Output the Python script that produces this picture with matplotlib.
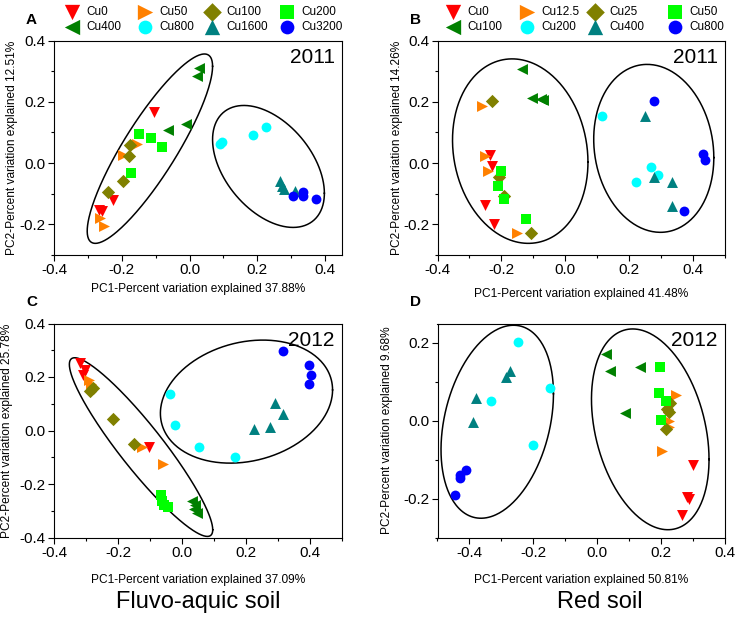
import numpy as np
import matplotlib
matplotlib.use("Agg")
from matplotlib import pyplot as plt
from matplotlib.ticker import MultipleLocator, FormatStrFormatter

plt.rcParams['font.family'] = ['Liberation Sans', 'DejaVu Sans']

# ---- data ----
labels_fa = ['Cu0', 'Cu50', 'Cu100', 'Cu200', 'Cu400', 'Cu800', 'Cu1600', 'Cu3200']
labels_red = ['Cu0', 'Cu12.5', 'Cu25', 'Cu50', 'Cu100', 'Cu200', 'Cu400', 'Cu800']
colors = ['#FF0000', '#FF8000', '#808000', '#00FF00', '#008000', '#00FFFF', '#008080', '#0000FF']
markers = ['v', '>', 'D', 's', '<', 'o', '^', 'o']
msizes = [62, 62, 46, 46, 62, 50, 62, 50]

# panel A: fluvo-aquic soil 2011
a_x = [[-0.104, -0.227, -0.268, -0.258],
       [-0.156, -0.197, -0.264, -0.252],
       [-0.177, -0.180, -0.197, -0.241],
       [-0.148, -0.113, -0.081, -0.172],
       [0.027, 0.022, -0.064, -0.011],
       [0.096, 0.091, 0.187, 0.226],
       [0.268, 0.272, 0.280, 0.312],
       [0.305, 0.335, 0.335, 0.374]]
a_y = [[0.166, -0.120, -0.152, -0.155],
       [0.063, 0.027, -0.180, -0.205],
       [0.060, 0.022, -0.060, -0.095],
       [0.096, 0.082, 0.052, -0.032],
       [0.309, 0.284, 0.109, 0.128],
       [0.068, 0.063, 0.093, 0.119],
       [-0.058, -0.075, -0.083, -0.090],
       [-0.107, -0.094, -0.109, -0.117]]

# panel B: red soil 2011
b_x = [[-0.235, -0.228, -0.251, -0.224],
       [-0.260, -0.250, -0.242, -0.152],
       [-0.229, -0.208, -0.191, -0.106],
       [-0.201, -0.210, -0.191, -0.123],
       [-0.134, -0.103, -0.077, -0.069],
       [0.115, 0.268, 0.289, 0.222],
       [0.248, 0.279, 0.333, 0.333],
       [0.279, 0.431, 0.438, 0.372]]
b_y = [[0.027, -0.010, -0.136, -0.199],
       [0.185, 0.022, -0.027, -0.229],
       [0.202, -0.044, -0.109, -0.227],
       [-0.027, -0.074, -0.117, -0.183],
       [0.308, 0.213, 0.209, 0.207],
       [0.153, -0.013, -0.040, -0.063],
       [0.153, -0.044, -0.063, -0.140],
       [0.202, 0.031, 0.011, -0.158]]

# panel C: fluvo-aquic soil 2012
c_x = [[-0.319, -0.303, -0.309, -0.103],
       [-0.290, -0.283, -0.124, -0.059],
       [-0.277, -0.286, -0.217, -0.151],
       [-0.066, -0.062, -0.057, -0.044],
       [0.030, 0.040, 0.036, 0.047],
       [-0.036, -0.023, 0.053, 0.167],
       [0.226, 0.275, 0.292, 0.317],
       [0.317, 0.396, 0.403, 0.398]]
c_y = [[0.252, 0.227, 0.209, -0.062],
       [0.190, 0.175, -0.060, -0.125],
       [0.160, 0.147, 0.044, -0.050],
       [-0.240, -0.262, -0.277, -0.287],
       [-0.262, -0.280, -0.293, -0.310],
       [0.137, 0.019, -0.060, -0.100],
       [0.006, 0.012, 0.102, 0.060],
       [0.297, 0.243, 0.209, 0.172]]

# panel D: red soil 2012
d_x = [[0.301, 0.280, 0.287, 0.266],
       [0.248, 0.224, 0.224, 0.203],
       [0.224, 0.229, 0.218, 0.214],
       [0.198, 0.193, 0.214, 0.201],
       [0.029, 0.040, 0.133, 0.087],
       [-0.249, -0.149, -0.331, -0.202],
       [-0.274, -0.286, -0.379, -0.389],
       [-0.411, -0.431, -0.428, -0.446]]
d_y = [[-0.113, -0.195, -0.202, -0.242],
       [0.065, 0.000, -0.017, -0.078],
       [0.023, 0.045, 0.030, -0.021],
       [0.138, 0.072, 0.051, 0.003],
       [0.172, 0.129, 0.138, 0.019],
       [0.202, 0.083, 0.051, -0.061],
       [0.127, 0.112, 0.058, -0.004],
       [-0.127, -0.140, -0.147, -0.190]]

# grouping ellipses: centre, half extents, tilt (correlation)
ell_a = {'cx': [-0.117, 0.233], 'cy': [0.047, -0.011], 'hx': [0.185, 0.165], 'hy': [0.309, 0.199], 'rho': [0.87, -0.44]}
ell_b = {'cx': [-0.141, 0.277], 'cy': [0.039, 0.048], 'hx': [0.212, 0.188], 'hy': [0.301, 0.274], 'rho': [-0.12, -0.11]}
ell_c = {'cx': [-0.128, 0.2015], 'cy': [-0.062, 0.108], 'hx': [0.224, 0.269], 'hy': [0.334, 0.230], 'rho': [-0.925, 0.19]}
ell_d = {'cx': [-0.313, 0.166], 'cy': [-0.0025, -0.022], 'hx': [0.176, 0.184], 'hy': [0.248, 0.258], 'rho': [0.29, -0.30]}

xlabels = ['PC1-Percent variation explained 37.88%', 'PC1-Percent variation explained 41.48%',
           'PC1-Percent variation explained 37.09%', 'PC1-Percent variation explained 50.81%']
ylabels = ['PC2-Percent variation explained 12.51%', 'PC2-Percent variation explained 14.26%',
           'PC2-Percent variation explained 25.78%', 'PC2-Percent variation explained 9.68%']
years = ['2011', '2011', '2012', '2012']
letters = ['A', 'B', 'C', 'D']
xlims = [(-0.4, 0.45), (-0.4, 0.5), (-0.4, 0.5), (-0.5, 0.4)]
ylims = [(-0.3, 0.4), (-0.3, 0.4), (-0.4, 0.4), (-0.3, 0.25)]


def draw_panel(ax, xs, ys, ell, labs):
    for i in range(len(xs)):
        ax.scatter(xs[i], ys[i], s=msizes[i], marker=markers[i], color=colors[i],
                   linewidths=0, label=labs[i], zorder=3)
    t = np.linspace(0, 2 * np.pi, 300)
    for k in range(len(ell['cx'])):
        r = ell['rho'][k]
        ex = ell['cx'][k] + ell['hx'][k] * np.cos(t)
        ey = ell['cy'][k] + ell['hy'][k] * (r * np.cos(t) + np.sqrt(1 - r * r) * np.sin(t))
        ax.plot(ex, ey, color='black', lw=1.1, zorder=2)


W, H = 738.0, 620.0
boxes = [(54, 40.5, 342, 255), (437.5, 40.5, 725, 255),
         (54, 323.5, 342, 537.5), (437.5, 323.5, 725, 537.5)]
xlabelpads = [4, 8, 10, 10]
ylabel_px = [13, 398, 8, 388]
legend_cols_px = [[72, 145, 212, 287], [453, 527, 595, 675]]

fig = plt.figure(figsize=(7.38, 6.2), dpi=100)
axes = []
for (l, t, r, b) in boxes:
    axes.append(fig.add_axes([l / W, 1 - b / H, (r - l) / W, (b - t) / H]))

panel_data = [(a_x, a_y, ell_a, labels_fa), (b_x, b_y, ell_b, labels_red),
              (c_x, c_y, ell_c, labels_fa), (d_x, d_y, ell_d, labels_red)]

for i, ax in enumerate(axes):
    xs, ys, ell, labs = panel_data[i]
    l, t, r, b = boxes[i]
    draw_panel(ax, xs, ys, ell, labs)
    ax.set_xlim(*xlims[i])
    ax.set_ylim(*ylims[i])
    ax.xaxis.set_major_locator(MultipleLocator(0.2))
    ax.xaxis.set_minor_locator(MultipleLocator(0.1))
    ax.yaxis.set_major_locator(MultipleLocator(0.2))
    ax.yaxis.set_minor_locator(MultipleLocator(0.1))
    ax.xaxis.set_major_formatter(FormatStrFormatter('%.1f'))
    ax.yaxis.set_major_formatter(FormatStrFormatter('%.1f'))
    ax.tick_params(which='major', direction='out', length=4, width=0.8, labelsize=11, pad=2)
    ax.tick_params(which='minor', direction='out', length=2.5, width=0.8)
    for sp in ax.spines.values():
        sp.set_linewidth(0.8)
    ax.set_xlabel(xlabels[i], fontsize=8.6, labelpad=xlabelpads[i])
    ax.set_ylabel(ylabels[i], fontsize=8.6)
    ax.yaxis.set_label_coords((ylabel_px[i] + 5 - l) / (r - l), 0.5)
    ax.text(0.975, 0.965, years[i], transform=ax.transAxes, ha='right', va='top', fontsize=15)

for i, (l, t, r, b) in enumerate(boxes):
    fig.text((l - 28) / W, 1 - (t - 21) / H, letters[i], fontsize=11, fontweight='bold',
             ha='left', va='center')

# legends above panels A and B, one per column (two rows each)
for ax, cols in zip(axes[:2], legend_cols_px):
    h, lb = ax.get_legend_handles_labels()
    for c, xpx in enumerate(cols):
        fig.legend([h[c], h[c + 4]], [lb[c], lb[c + 4]], frameon=False,
                   loc='center left', bbox_to_anchor=((xpx - 7) / W, 1 - 19.5 / H), fontsize=8.5,
                   markerscale=1.4, handletextpad=0.6, labelspacing=0.3,
                   borderaxespad=0, borderpad=0, handlelength=1.2)

fig.text(198 / W, 1 - 602 / H, 'Fluvo-aquic soil', fontsize=17, ha='center', va='center')
fig.text(600 / W, 1 - 602 / H, 'Red soil', fontsize=17, ha='center', va='center')

fig.savefig('out.png', dpi=100)
